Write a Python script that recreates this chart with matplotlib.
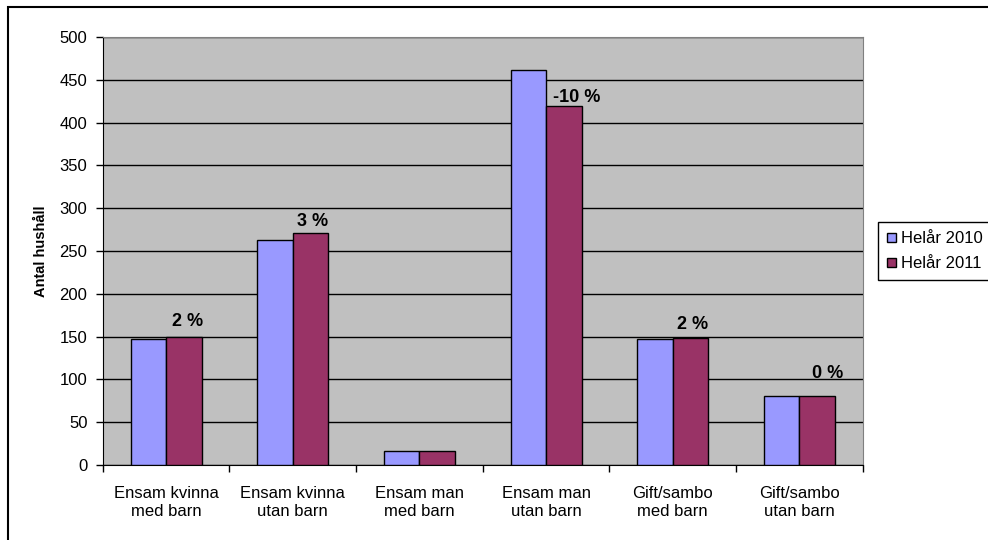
import numpy as np
import matplotlib.pyplot as plt
from matplotlib.patches import Rectangle

plt.rcParams['font.family'] = ['Liberation Sans', 'DejaVu Sans']

# data
categories = ['Ensam kvinna\nmed barn', 'Ensam kvinna\nutan barn', 'Ensam man\nmed barn',
              'Ensam man\nutan barn', 'Gift/sambo\nmed barn', 'Gift/sambo\nutan barn']
helar_2010 = [147, 263, 16, 462, 147, 81]
helar_2011 = [149, 271, 16, 419, 148, 81]
change_labels = ['2 %', '3 %', '', '-10 %', '2 %', '0 %']

# label nudges in pixels (dx, dy above bar top)
label_offsets = [(4, 11), (2, 7), (0, 0), (13, 4), (2, 9), (11, 18)]

fig = plt.figure(figsize=(9.88, 5.4), dpi=100)
# chart border: only top and left edges fall inside the image
fig.patches.append(Rectangle((8 / 988, -0.1), 1.2, 1 - 7 / 540 + 0.1,
                             transform=fig.transFigure, fill=False,
                             edgecolor='black', linewidth=1.5))
ax = fig.add_axes([102.7 / 988, 1 - 465 / 540, 760 / 988, 428 / 540])
ax.set_facecolor('#C0C0C0')

x = np.arange(len(categories))
w = 0.28
ax.bar(x - w / 2, helar_2010, w, color='#9999FF', edgecolor='black', linewidth=1,
       label='Helår 2010', zorder=3)
bars = ax.bar(x + w / 2, helar_2011, w, color='#993366', edgecolor='black', linewidth=1,
              label='Helår 2011', zorder=3)

for b, txt, (dx, dy) in zip(bars, change_labels, label_offsets):
    if txt:
        ax.annotate(txt, (b.get_x() + b.get_width() / 2, b.get_height()),
                    xytext=(dx, dy), textcoords='offset pixels',
                    ha='center', va='baseline', fontsize=13, fontweight='bold')

ax.set_xlim(-0.5, len(categories) - 0.5)
ax.set_ylim(0, 500)
ax.set_yticks(np.arange(0, 501, 50))
ax.yaxis.grid(True, color='black', linewidth=1)
ax.set_axisbelow(True)

ax.set_xticks(np.arange(-0.5, len(categories), 1))
ax.set_xticklabels([])
ax.set_xticks(x, minor=True)
ax.set_xticklabels(categories, minor=True, fontsize=12, linespacing=1.3)
ax.tick_params(axis='x', which='minor', length=0, pad=15)
ax.tick_params(axis='x', which='major', length=5, width=1)
ax.tick_params(axis='y', length=5, width=1, labelsize=12, pad=6)

for s in ['top', 'right']:
    ax.spines[s].set_color('#808080')
ax.spines['left'].set_color('black')
ax.spines['bottom'].set_color('black')

ax.set_ylabel('Antal hushåll', fontsize=10.5, fontweight='bold', labelpad=8)

leg = fig.legend(loc='upper left', bbox_to_anchor=(878 / 988, 1 - 222 / 540),
                 fontsize=12, fancybox=False, edgecolor='black', framealpha=1,
                 handlelength=0.5, handleheight=0.5, handletextpad=0.3,
                 borderpad=0.55, labelspacing=0.6, borderaxespad=0)
leg.get_frame().set_linewidth(1)

fig.savefig('out.png', dpi=100)
